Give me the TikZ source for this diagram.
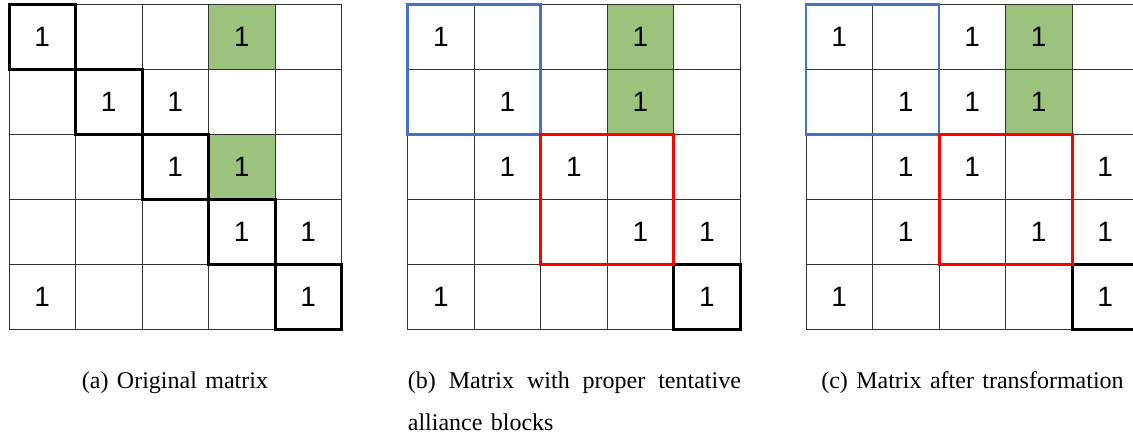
\documentclass[tikz,border=0pt]{standalone}
\usepackage{fontspec}
\setmainfont{Liberation Serif}[WordSpace=1.4]
\newfontfamily\cellfont{Liberation Sans}
\usepackage{tikz}
\definecolor{agreen}{RGB}{155,195,125}
\definecolor{ablue}{RGB}{68,114,196}
\tikzstyle{cellline} = [draw=black!80, line width=1pt]
\tikzstyle{cell} = [rectangle, minimum width=66.5pt, minimum height=65.1pt, inner sep=0pt, outer sep=0pt, cellline]
\tikzstyle{one} = [inner sep=0pt, font=\cellfont\fontsize{28}{28}\selectfont]
\tikzstyle{diag} = [draw=black, line width=3pt]
\tikzstyle{blueblock} = [draw=ablue, line width=2.5pt]
\tikzstyle{redblock} = [draw=red, line width=3pt]
\tikzstyle{subcap} = [inner sep=0pt, anchor=base, font=\fontsize{24}{42}\selectfont]

\begin{document}
\begin{tikzpicture}[x=1pt, y=-1pt]
\useasboundingbox (0,0) rectangle (1133,436);
% the three 5x5 grids
\foreach \g/\x in {a/9, b/407.7, c/806}
  \foreach \r in {1,...,5}
    \foreach \c in {1,...,5}
      \node (\g\r\c) [cell] at ({\x+66.5*(\c-0.5)}, {4.3+65.1*(\r-0.5)}) {};
% shaded cells
\foreach \n in {a14, a34, b14, b24, c14, c24}
  \draw[cellline, fill=agreen] (\n.north west) rectangle (\n.south east);
% entries
\foreach \n in {a11, a14, a22, a23, a33, a34, a44, a45, a51, a55}
  \node (v\n) [one] at (\n) {1};
\foreach \n in {b11, b14, b22, b24, b32, b33, b44, b45, b51, b55}
  \node (v\n) [one] at (\n) {1};
\foreach \n in {c11, c13, c14, c22, c23, c24, c32, c33, c35, c42, c44, c45, c51, c55}
  \node (v\n) [one] at (\n) {1};
% blocks
\foreach \n in {a11, a22, a33, a44, a55, b55, c55}
  \draw[diag] (\n.north west) rectangle (\n.south east);
\draw[blueblock] (b11.north west) rectangle (b22.south east);
\draw[redblock] (b33.north west) rectangle (b44.south east);
\draw[blueblock] (c11.north west) rectangle (c22.south east);
\draw[redblock] (c33.north west) rectangle (c44.south east);
% captions
\node (capa) [subcap] at (175, 388) {(a) Original matrix};
\node (capb) [subcap, anchor=base west, text width=333pt, align=justify] at (407.7, 388) {(b) Matrix with proper tentative\linebreak alliance blocks};
\node (capc) [subcap] at (972.5, 388) {(c) Matrix after transformation};
\end{tikzpicture}
\end{document}
